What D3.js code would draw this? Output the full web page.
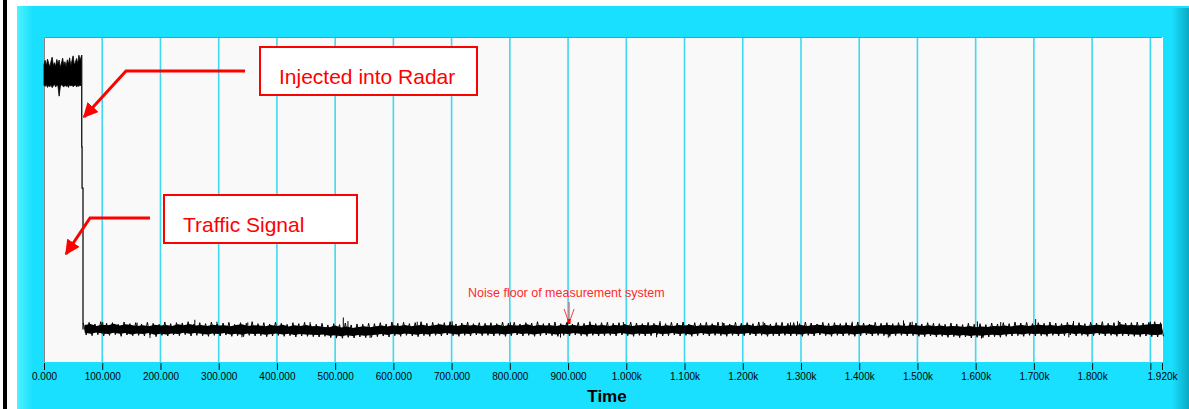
<!DOCTYPE html>
<html>
<head>
<meta charset="utf-8">
<script src="https://cdn.jsdelivr.net/npm/d3@7"></script>
<style>
  body { margin: 0; background: #fff; }
  svg { display: block; font-family: "Liberation Sans", Arial, sans-serif; }
</style>
</head>
<body>
<svg id="chart"></svg>
<script>
// time axis ticks
var tickValues = [0,100,200,300,400,500,600,700,800,900,1000,1100,1200,1300,1400,1500,1600,1700,1800,1900,1920];
var tickLabels = ["0.000","100.000","200.000","300.000","400.000","500.000","600.000","700.000","800.000","900.000",
  "1.000k","1.100k","1.200k","1.300k","1.400k","1.500k","1.600k","1.700k","1.800k","","1.920k"];
var gridValues = [100,200,300,400,500,600,700,800,900,1000,1100,1200,1300,1400,1500,1600,1700,1800,1900];

// injected signal (dBm), upper / lower envelope, one value every 2 time units from 0
var sigStart = 0, sigStep = 2;
var sigHi = [-28.5,-27.2,-29.0,-26.8,-28.1,-29.3,-27.5,-26.2,-28.8,-27.9,-29.1,-26.9,-28.4,-27.1,-29.4,-28.0,-26.5,
  -28.7,-27.6,-29.2,-27.0,-28.3,-26.4,-28.9,-27.3,-25.8,-28.6,-27.7,-26.6,-28.2,-25.6,-27.4,-26.0];
var sigLo = [-34.8,-35.2,-34.6,-35.5,-34.9,-35.3,-34.7,-35.6,-35.0,-34.5,-35.4,-34.8,-35.1,-38.2,-35.3,-34.6,-35.0,
  -35.4,-34.7,-35.2,-34.9,-35.5,-34.6,-35.1,-34.8,-35.3,-35.0,-34.7,-35.4,-34.9,-35.2,-34.8,-35.1];

// step down when the signal is switched off
var dropTime  = [64.8, 64.8, 65.4, 65.4, 67, 67];
var dropLevel = [-25.5, -53.8, -53.8, -66.5, -66.5, -110.0];

// noise floor (dBm), one value per 10 time units from 70:
// dense core of the trace (hi / lo) and the tips of the noise (peak / dip)
var floorStart = 70, floorStep = 10;
var floorHi = [
  -108.6,-108.3,-108.9,-108.5,-108.7,-108.2,-108.8,-108.4,-108.6,-108.9,
  -108.7,-109.0,-108.5,-108.8,-108.6,-108.9,-108.4,-108.7,-108.3,-108.8,
  -108.6,-108.9,-108.5,-108.8,-108.7,-109.0,-108.6,-108.4,-108.9,-108.7,
  -108.8,-109.0,-108.6,-108.9,-108.5,-109.1,-108.7,-108.9,-108.6,-109.0,
  -108.9,-109.2,-109.3,-108.8,-109.4,-109.1,-109.5,-109.2,-109.0,-109.3,
  -109.0,-108.8,-109.1,-108.7,-108.9,-108.6,-109.0,-108.8,-108.5,-108.9,
  -108.7,-108.4,-108.8,-108.6,-108.9,-108.5,-108.8,-108.6,-108.9,-108.7,
  -108.8,-108.5,-108.9,-108.6,-108.8,-108.7,-108.4,-108.9,-108.6,-108.8,
  -108.7,-108.9,-108.5,-108.8,-108.6,-108.9,-108.7,-108.5,-108.8,-108.6,
  -108.9,-108.6,-108.8,-108.5,-108.9,-108.7,-108.6,-108.8,-108.5,-108.9,
  -108.7,-108.9,-108.6,-108.8,-108.5,-108.9,-108.7,-108.8,-108.6,-108.9,
  -108.8,-108.6,-108.9,-108.7,-108.5,-108.9,-108.8,-108.6,-108.9,-108.7,
  -108.9,-108.7,-108.8,-108.6,-108.9,-108.7,-108.5,-108.8,-108.9,-108.6,
  -108.8,-108.6,-108.9,-108.7,-108.8,-108.5,-108.9,-108.7,-108.6,-108.8,
  -108.7,-108.9,-108.6,-108.8,-108.9,-108.7,-109.0,-108.8,-109.1,-108.9,
  -109.0,-109.2,-108.9,-109.3,-109.1,-109.2,-108.9,-109.0,-108.8,-109.1,
  -108.8,-108.6,-108.9,-108.7,-108.5,-108.8,-108.6,-108.9,-108.7,-108.5,
  -108.8,-108.6,-108.9,-108.7,-108.5,-108.8,-108.6,-108.9,-108.4,-108.7,
  -108.6,-108.8,-108.5,-108.4,-108.3,-108.4];
var floorLo = [
  -111.0,-111.3,-110.9,-111.2,-111.4,-111.0,-111.3,-111.1,-111.5,-111.2,
  -111.4,-111.1,-111.6,-111.3,-111.5,-111.2,-111.4,-111.0,-111.3,-111.1,
  -111.3,-111.5,-111.2,-111.4,-111.1,-111.5,-111.3,-111.6,-111.2,-111.4,
  -111.3,-111.6,-111.4,-111.2,-111.5,-111.3,-111.7,-111.4,-111.5,-111.6,
  -111.7,-111.5,-111.9,-111.8,-112.1,-111.8,-112.0,-111.7,-111.9,-111.8,
  -111.6,-111.4,-111.7,-111.3,-111.5,-111.2,-111.4,-111.6,-111.3,-111.5,
  -111.2,-111.4,-111.1,-111.3,-111.5,-111.2,-111.4,-111.1,-111.3,-111.2,
  -111.4,-111.2,-111.5,-111.3,-111.1,-111.4,-111.2,-111.5,-111.3,-111.1,
  -111.3,-111.5,-111.2,-111.4,-111.1,-111.3,-111.5,-111.2,-111.4,-111.3,
  -111.2,-111.4,-111.1,-111.3,-111.5,-111.2,-111.4,-111.3,-111.1,-111.4,
  -111.3,-111.1,-111.4,-111.2,-111.5,-111.3,-111.1,-111.4,-111.2,-111.3,
  -111.5,-111.2,-111.4,-111.3,-111.1,-111.4,-111.2,-111.5,-111.3,-111.4,
  -111.2,-111.4,-111.3,-111.5,-111.2,-111.4,-111.1,-111.3,-111.5,-111.2,
  -111.4,-111.2,-111.5,-111.3,-111.1,-111.4,-111.2,-111.3,-111.5,-111.3,
  -111.2,-111.4,-111.3,-111.5,-111.6,-111.4,-111.7,-111.5,-111.8,-111.6,
  -111.9,-111.7,-112.0,-111.8,-111.9,-111.7,-111.6,-111.8,-111.5,-111.4,
  -111.3,-111.5,-111.2,-111.4,-111.3,-111.5,-111.2,-111.4,-111.3,-111.1,
  -111.4,-111.2,-111.5,-111.3,-111.1,-111.4,-111.2,-111.5,-111.3,-111.4,
  -111.5,-111.6,-111.4,-111.6,-111.7,-111.5];
var floorPeak = [
  -108.0,-107.8,-108.3,-107.6,-108.1,-107.9,-108.4,-107.7,-108.2,-107.9,
  -108.3,-107.8,-108.1,-108.4,-107.7,-108.2,-107.9,-108.0,-107.6,-108.3,
  -107.9,-108.2,-107.7,-108.3,-108.0,-107.8,-108.4,-107.9,-108.1,-107.6,
  -108.2,-107.9,-108.3,-107.8,-108.1,-108.4,-107.9,-108.2,-107.8,-108.3,
  -108.4,-108.1,-108.6,-108.2,-108.5,-108.0,-108.6,-108.3,-108.4,-108.1,
  -108.2,-107.9,-108.3,-107.7,-108.1,-107.8,-108.2,-107.9,-107.6,-108.1,
  -107.8,-108.2,-107.9,-107.6,-108.3,-108.0,-107.7,-108.2,-107.9,-108.1,
  -107.9,-108.2,-107.7,-108.1,-107.8,-108.3,-107.9,-108.0,-107.6,-108.2,
  -108.0,-107.7,-108.2,-107.9,-108.3,-107.8,-108.1,-107.6,-108.2,-107.9,
  -107.8,-108.1,-107.9,-108.3,-107.7,-108.0,-108.2,-107.8,-108.1,-107.9,
  -108.2,-107.8,-108.0,-107.7,-108.3,-107.9,-108.1,-107.8,-108.2,-107.7,
  -108.0,-108.3,-107.8,-108.1,-107.9,-108.2,-107.7,-108.0,-108.3,-107.9,
  -107.8,-108.1,-107.9,-108.2,-107.7,-108.0,-108.3,-107.8,-108.1,-107.9,
  -108.2,-107.9,-108.1,-107.7,-108.0,-108.3,-107.8,-108.1,-107.9,-108.2,
  -107.9,-108.2,-107.8,-108.0,-108.3,-107.9,-108.1,-108.2,-108.4,-108.0,
  -108.3,-108.5,-108.1,-108.4,-108.2,-108.5,-108.0,-108.3,-107.9,-108.2,
  -107.7,-108.0,-107.8,-108.2,-107.9,-108.1,-107.7,-108.0,-108.2,-107.8,
  -108.1,-107.9,-108.2,-107.8,-108.0,-107.6,-108.1,-107.9,-107.7,-108.0,
  -107.9,-107.7,-108.0,-107.8,-107.6,-107.9];
var floorDip = [
  -111.7,-111.9,-111.6,-112.0,-111.8,-111.6,-112.1,-111.7,-111.9,-111.8,
  -112.0,-111.7,-112.2,-111.8,-112.0,-111.7,-111.9,-111.6,-112.0,-111.8,
  -111.9,-112.1,-111.8,-112.0,-111.7,-112.1,-111.9,-112.2,-111.8,-112.0,
  -111.9,-112.2,-112.0,-111.8,-112.1,-111.9,-112.3,-112.0,-112.1,-112.2,
  -112.3,-112.1,-112.5,-112.4,-112.7,-112.4,-112.6,-112.3,-112.5,-112.4,
  -112.2,-112.0,-112.3,-111.9,-112.1,-111.8,-112.0,-112.2,-111.9,-112.1,
  -111.8,-112.0,-111.7,-111.9,-112.1,-111.8,-112.0,-111.7,-111.9,-111.8,
  -112.0,-111.8,-112.1,-111.9,-111.7,-112.0,-111.8,-112.1,-111.9,-111.7,
  -111.9,-112.1,-111.8,-112.0,-111.7,-111.9,-112.1,-111.8,-112.0,-111.9,
  -111.8,-112.0,-111.7,-111.9,-112.1,-111.8,-112.0,-111.9,-111.7,-112.0,
  -111.9,-111.7,-112.0,-111.8,-112.1,-111.9,-111.7,-112.0,-111.8,-111.9,
  -112.1,-111.8,-112.0,-111.9,-111.7,-112.0,-111.8,-112.1,-111.9,-112.0,
  -111.8,-112.0,-111.9,-112.1,-111.8,-112.0,-111.7,-111.9,-112.1,-111.8,
  -112.0,-111.8,-112.1,-111.9,-111.7,-112.0,-111.8,-111.9,-112.1,-111.9,
  -111.8,-112.0,-111.9,-112.1,-112.2,-112.0,-112.3,-112.1,-112.4,-112.2,
  -112.5,-112.3,-112.6,-112.4,-112.5,-112.3,-112.2,-112.4,-112.1,-112.0,
  -111.9,-112.1,-111.8,-112.0,-111.9,-112.1,-111.8,-112.0,-111.9,-111.7,
  -112.0,-111.8,-112.1,-111.9,-111.7,-112.0,-111.8,-112.1,-111.9,-112.0,
  -112.1,-112.2,-112.0,-112.2,-112.3,-112.1];

// single spikes sticking out of the noise floor
var spikeTimes  = [101,160,259,297,350,457,514,522,641,701,801,899,995,1058,1165,1235,1282,1294,1388,1476,1491,1603,1643,1703,1768,1845,1900,
  182,340,502,560,887,1052,1450,1610,1760];
var spikeLevels = [-107.7,-107.9,-107.0,-107.6,-107.8,-107.7,-106.3,-107.4,-107.6,-107.5,-107.8,-107.6,-107.7,-107.4,-107.8,-107.6,-107.8,-107.5,-107.6,-107.2,-107.6,-107.5,-107.7,-106.8,-107.4,-107.3,-107.6,
  -112.6,-112.4,-112.7,-112.6,-112.5,-112.4,-112.5,-112.8,-112.4];

var W = 1189, H = 409;
var plot = {left: 44, right: 1162, top: 37, bottom: 362};
var cyan = "#19e0fe", grid = "#3fd8f0", red = "#ff0000";

var svg = d3.select("#chart").attr("width", W).attr("height", H);

// page background, document edge and instrument panel
svg.append("rect").attr("width", W).attr("height", H).attr("fill", "#fff");
svg.append("rect").attr("x", 3).attr("y", 0).attr("width", 4).attr("height", H).attr("fill", "#000");

var defs = svg.append("defs");
var gl = defs.append("linearGradient").attr("id", "lEdge");
gl.append("stop").attr("offset", "0%").attr("stop-color", "#4ef2ff");
gl.append("stop").attr("offset", "100%").attr("stop-color", cyan);
var gr = defs.append("linearGradient").attr("id", "rEdge");
gr.append("stop").attr("offset", "0%").attr("stop-color", cyan);
gr.append("stop").attr("offset", "100%").attr("stop-color", "#0aa9c4");

svg.append("rect").attr("x", 17).attr("y", 6).attr("width", W - 17).attr("height", H - 6).attr("fill", cyan);
svg.append("rect").attr("x", 17).attr("y", 6).attr("width", 16).attr("height", H - 6).attr("fill", "url(#lEdge)");
svg.append("rect").attr("x", 1172).attr("y", 8).attr("width", 17).attr("height", H - 8).attr("fill", "url(#rEdge)");

var x = d3.scaleLinear().domain([0, 1920]).range([plot.left, plot.right]);
var y = d3.scaleLinear().domain([-120, -20]).range([plot.bottom, plot.top]);

// plot area
svg.append("rect")
  .attr("x", plot.left).attr("y", plot.top)
  .attr("width", plot.right - plot.left).attr("height", plot.bottom - plot.top)
  .attr("fill", "#f9f9f9");
svg.append("line").attr("x1", plot.right + 0.5).attr("x2", plot.right + 0.5)
  .attr("y1", plot.top).attr("y2", plot.bottom).attr("stroke", "#fff");

svg.append("g").selectAll("line")
  .data(gridValues)
  .enter().append("line")
  .attr("x1", function(d) { return x(d); })
  .attr("x2", function(d) { return x(d); })
  .attr("y1", plot.top).attr("y2", plot.bottom)
  .attr("stroke", grid).attr("stroke-width", 1.6);

svg.append("path")
  .attr("d", "M" + (plot.left + 0.5) + "," + plot.bottom + "V" + (plot.top + 0.5) + "H" + plot.right)
  .attr("fill", "none").attr("stroke", "#888");

// traces
var band = d3.area()
  .x(function(d) { return x(d.t); })
  .y0(function(d) { return y(d.lo); })
  .y1(function(d) { return y(d.hi); });

var sigData = sigHi.map(function(v, i) { return {t: sigStart + i * sigStep, hi: v, lo: sigLo[i]}; });
var floorData = floorHi.map(function(v, i) { return {t: floorStart + i * floorStep, hi: v, lo: floorLo[i]}; });

svg.append("path").datum(sigData).attr("d", band).attr("fill", "#000")
  .attr("stroke", "#000").attr("stroke-width", 0.8);

svg.append("path")
  .datum(dropTime.map(function(t, i) { return [t, dropLevel[i]]; }))
  .attr("d", d3.line().x(function(d) { return x(d[0]); }).y(function(d) { return y(d[1]); }))
  .attr("fill", "none").attr("stroke", "#111").attr("stroke-width", 1.3);

svg.append("path").datum(floorData).attr("d", band).attr("fill", "#000");

// noise tips: trace swings from each peak down to each dip
var tips = [];
floorPeak.forEach(function(v, i) {
  var t0 = floorStart + i * floorStep;
  tips.push([t0 - 2.5, v]);
  tips.push([t0 + 2.5, floorDip[i]]);
});
svg.append("path")
  .datum(tips)
  .attr("d", d3.line().x(function(d) { return x(d[0]); }).y(function(d) { return y(d[1]); }))
  .attr("fill", "none").attr("stroke", "#000").attr("stroke-width", 1);

svg.append("g").selectAll("line")
  .data(spikeTimes)
  .enter().append("line")
  .attr("x1", function(d) { return x(d); })
  .attr("x2", function(d) { return x(d); })
  .attr("y1", y(-110))
  .attr("y2", function(d, i) { return y(spikeLevels[i]); })
  .attr("stroke", "#000").attr("stroke-width", 1);

// time axis
var axis = svg.append("g")
  .attr("transform", "translate(0," + plot.bottom + ")")
  .call(d3.axisBottom(x)
    .tickValues(tickValues)
    .tickFormat(function(d, i) { return tickLabels[i]; })
    .tickSize(7)
    .tickSizeOuter(0));
axis.select(".domain").remove();
axis.selectAll(".tick line").attr("stroke", "#111").attr("y1", 1).attr("y2", 8);
axis.selectAll(".tick text")
  .attr("y", 11)
  .attr("fill", "#000")
  .style("font-family", "'Liberation Sans', Arial, sans-serif")
  .style("font-size", "10px");

svg.append("text")
  .attr("x", 607).attr("y", 402)
  .attr("text-anchor", "middle")
  .style("font-size", "17px").style("font-weight", "bold")
  .text("Time");

// annotations
defs.append("marker")
  .attr("id", "head")
  .attr("viewBox", "0 0 10 10")
  .attr("refX", 9).attr("refY", 5)
  .attr("markerWidth", 5).attr("markerHeight", 5)
  .attr("markerUnits", "strokeWidth")
  .attr("orient", "auto")
  .append("path").attr("d", "M0,0L10,5L0,10z").attr("fill", red);

function callout(bx, by, bw, bh, label, arrow) {
  svg.append("path")
    .attr("d", d3.line()(arrow))
    .attr("fill", "none").attr("stroke", red).attr("stroke-width", 3)
    .attr("marker-end", "url(#head)");
  svg.append("rect")
    .attr("x", bx).attr("y", by).attr("width", bw).attr("height", bh)
    .attr("fill", "#fff").attr("stroke", red).attr("stroke-width", 2);
  svg.append("text")
    .attr("x", bx + 19).attr("y", by + 37)
    .attr("fill", red)
    .style("font-size", "21px")
    .text(label);
}

callout(260, 47, 217, 48, "Injected into Radar", [[245, 71], [126, 71], [84, 117]]);
callout(164, 195, 193, 48, "Traffic Signal", [[150, 218], [90, 218], [66, 254]]);

svg.append("text")
  .attr("x", 468).attr("y", 297)
  .attr("fill", "#ff2a2a")
  .style("font-size", "12.5px")
  .text("Noise floor of measurement system");

var nx = x(900) + 1;
svg.append("path")
  .attr("d", "M" + nx + ",302V324M" + (nx - 5) + ",309L" + nx + ",323L" + (nx + 5) + ",309")
  .attr("fill", "none").attr("stroke", "#ff3a3a").attr("stroke-width", 1);
svg.append("rect").attr("x", nx - 1.5).attr("y", 319).attr("width", 3).attr("height", 5).attr("fill", red);
</script>
</body>
</html>
